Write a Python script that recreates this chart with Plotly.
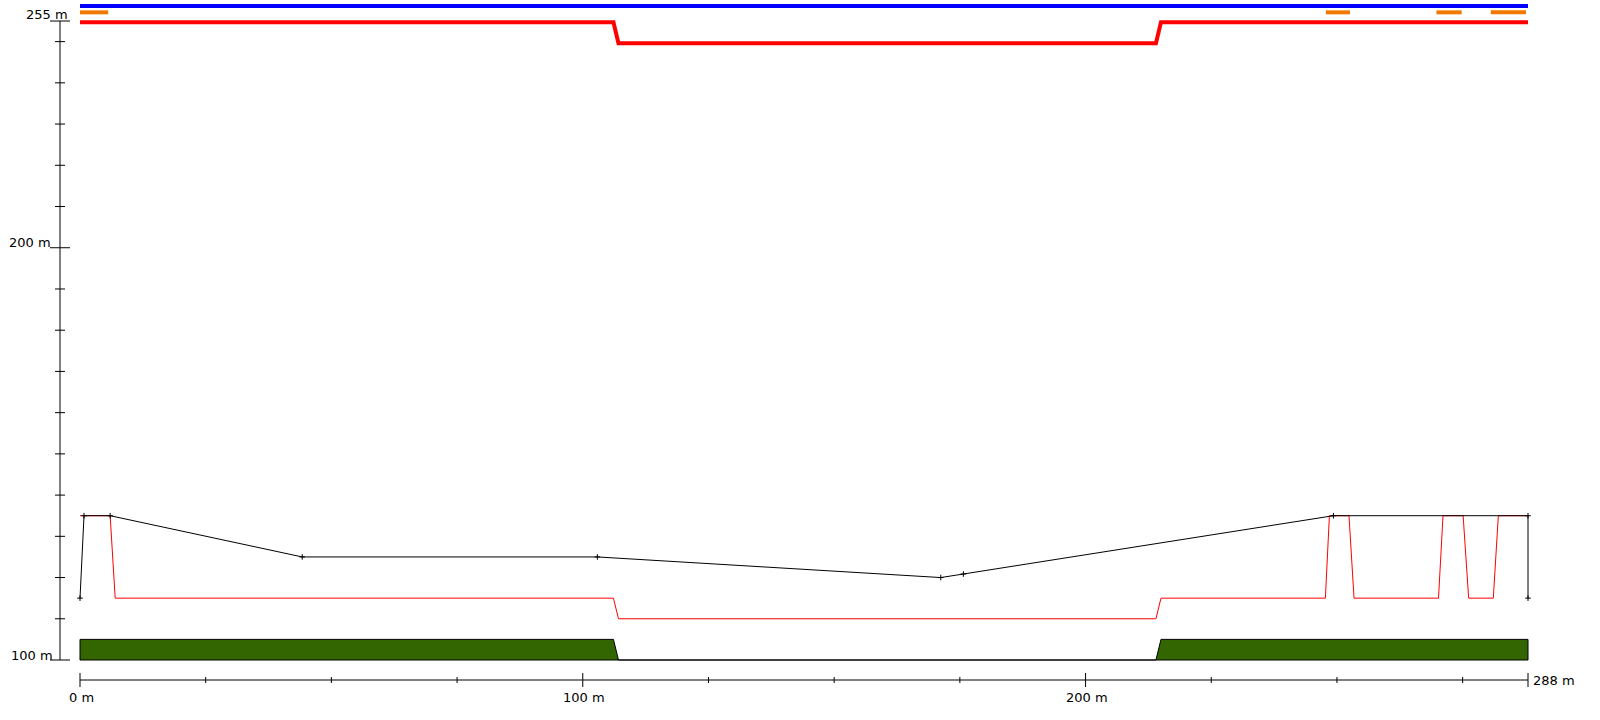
import plotly.graph_objects as go

# ---------------- data ----------------
# ground (terrain) polygon, metres
ground_x = [0, 0, 106.1, 107.1, 214.0, 215.0, 288, 288, 0]
ground_y = [100, 105, 105, 100, 100, 105, 105, 100, 100]

# black profile line
black_x = [0, 0.8, 6.0, 44.2, 102.9, 171.2, 175.7, 249.3, 288, 288]
black_y = [115, 135, 135, 125, 125, 120, 120.86, 135, 135, 115]

# thin red profile line
red_x = [0, 6.0, 7.0, 106.1, 107.1, 214.0, 215.0, 247.7, 248.5, 252.4, 253.4,
         270.2, 271.1, 275.1, 276.2, 281.1, 282.1, 288]
red_y = [135, 135, 115, 115, 110, 110, 115, 115, 135, 135, 115,
         115, 135, 135, 115, 115, 135, 135]

# thick bands at top
blue_x = [0, 288]
blue_y = [258.64, 258.64]

orange_segments = [(0, 5.6), (247.8, 252.6), (269.8, 274.8), (280.6, 287.6)]
orange_level = 257.1

red_band_x = [0, 106.1, 107.1, 214.0, 215.0, 288]
red_band_y = [254.69, 254.69, 249.59, 249.59, 254.69, 254.69]

# axes ticks / labels
y_major = [100, 200, 255]
y_major_labels = ["100 m", "200 m", "255 m"]
y_minor = [110, 120, 130, 140, 150, 160, 170, 180, 190, 210, 220, 230, 240, 250]
x_major = [0, 100, 200, 288]
x_major_labels = ["0 m", "100 m", "200 m", "288 m"]
x_minor = [25, 50, 75, 125, 150, 175, 225, 250, 275]

# ---------------- figure ----------------
FONT = dict(family="DejaVu Sans", size=13, color="black")
fig = go.Figure()

fig.add_trace(go.Scatter(x=ground_x, y=ground_y, mode="lines", fill="toself",
                         fillcolor="#336600", line=dict(color="black", width=1),
                         hoverinfo="skip", showlegend=False))
fig.add_trace(go.Scatter(x=red_x, y=red_y, mode="lines",
                         line=dict(color="#ff0000", width=1),
                         hoverinfo="skip", showlegend=False))
fig.add_trace(go.Scatter(x=black_x, y=black_y, mode="lines+markers",
                         line=dict(color="black", width=1),
                         marker=dict(symbol="cross-thin", size=4, color="black",
                                     line=dict(color="black", width=1)),
                         hoverinfo="skip", showlegend=False))
fig.add_trace(go.Scatter(x=blue_x, y=blue_y, mode="lines",
                         line=dict(color="#0000ff", width=4),
                         hoverinfo="skip", showlegend=False))
ox, oy = [], []
for a, b in orange_segments:
    ox += [a, b, None]
    oy += [orange_level, orange_level, None]
fig.add_trace(go.Scatter(x=ox, y=oy, mode="lines",
                         line=dict(color="#f07800", width=4),
                         hoverinfo="skip", showlegend=False))
fig.add_trace(go.Scatter(x=red_band_x, y=red_band_y, mode="lines",
                         line=dict(color="#ff0000", width=4),
                         hoverinfo="skip", showlegend=False))

shapes = []
ax_line = dict(color="black", width=1)
# axis lines
shapes.append(dict(type="line", xref="paper", x0=0, x1=0, yref="y",
                   y0=min(y_major), y1=max(y_major), line=ax_line))
shapes.append(dict(type="line", xref="x", x0=min(x_major), x1=max(x_major),
                   yref="paper", y0=0, y1=0, line=ax_line))
# y ticks
for v in y_major:
    shapes.append(dict(type="line", xref="paper", xsizemode="pixel", xanchor=0,
                       x0=-10, x1=10, yref="y", y0=v, y1=v, line=ax_line))
for v in y_minor:
    shapes.append(dict(type="line", xref="paper", xsizemode="pixel", xanchor=0,
                       x0=-5, x1=5, yref="y", y0=v, y1=v, line=ax_line))
# x ticks
for v in x_major:
    shapes.append(dict(type="line", xref="x", x0=v, x1=v, yref="paper",
                       ysizemode="pixel", yanchor=0, y0=-7, y1=7, line=ax_line))
for v in x_minor:
    shapes.append(dict(type="line", xref="x", x0=v, x1=v, yref="paper",
                       ysizemode="pixel", yanchor=0, y0=-3, y1=3, line=ax_line))

annotations = []
y_lab_style = {100: (-5, 5), 200: (-7, 5), 255: (10, 7)}
for v, t in zip(y_major, y_major_labels):
    xs, ys = y_lab_style[v]
    annotations.append(dict(xref="paper", x=0, yref="y", y=v, text=t,
                            showarrow=False, xanchor="right", yanchor="middle",
                            xshift=xs, yshift=ys, font=FONT))
for v, t in zip(x_major, x_major_labels):
    if v == max(x_major):
        annotations.append(dict(xref="x", x=v, yref="paper", y=0, text=t,
                                showarrow=False, xanchor="left", yanchor="middle",
                                xshift=3, yshift=0, font=FONT))
    else:
        annotations.append(dict(xref="x", x=v, yref="paper", y=0, text=t,
                                showarrow=False, xanchor="center", yanchor="middle",
                                xshift=1, yshift=-17, font=FONT))

fig.update_layout(
    width=1600, height=720, autosize=False,
    margin=dict(l=60, r=50, t=0, b=40, pad=0),
    paper_bgcolor="white", plot_bgcolor="white",
    xaxis=dict(range=[-3.9779, 292.3757], visible=False, fixedrange=True),
    yaxis=dict(range=[95.1487, 260.0939], visible=False, fixedrange=True),
    shapes=shapes, annotations=annotations, showlegend=False,
    font=FONT, hovermode=False,
)

fig.write_html("out.html", config={"displayModeBar": False},
               post_script="document.body.style.margin='0';document.body.style.overflow='hidden';")
